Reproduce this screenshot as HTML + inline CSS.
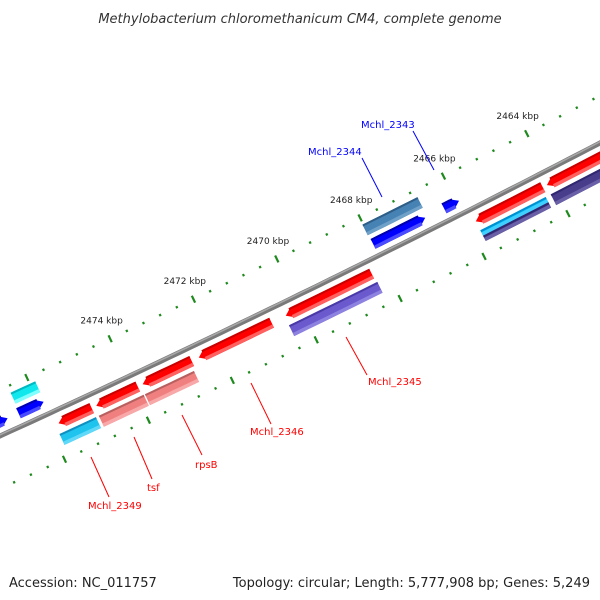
<!DOCTYPE html>
<html><head><meta charset="utf-8"><style>
body{margin:0;background:#fff;}
svg{display:block;}
text{font-family:"DejaVu Sans","Liberation Sans",sans-serif;}
</style></head><body>
<svg id="map" width="600" height="600" viewBox="0 0 600 600">
<text x="300" y="23" text-anchor="middle" font-size="13" font-style="italic" fill="#333">Methylobacterium chloromethanicum CM4, complete genome</text>
<text x="9" y="587" font-size="13" fill="#222">Accession: NC_011757</text>
<text x="590" y="587" text-anchor="end" font-size="13" fill="#222">Topology: circular; Length: 5,777,908 bp; Genes: 5,249</text>
<g id="layer"></g>
</svg>
<script>
// ---- data (kbp) ----
const geneNames = ["Mchl_2349","tsf","rpsB","Mchl_2346","Mchl_2345","gene-r6","gene-r7"];
const redStarts = [2475.79,2474.89,2473.78,2472.44,2470.36,2465.82,2464.12];
const redEnds   = [2475.00,2473.90,2472.61,2470.70,2468.31,2464.22,2460.32];
const cogStarts = [2475.87,2474.93,2473.83,2470.39,2465.82,2464.14];
const cogEnds   = [2475.00,2473.86,2472.66,2468.28,2464.26,2460.32];
const cogColors = ["#1ec3ee","#f08080","#f08080","#6a5acd","#483d8b","#483d8b"];
const fwdStarts = [2468.00,2466.30,2476.49,2477.30];
const fwdEnds   = [2466.75,2465.94,2475.89,2476.75];
const topStarts = [2468.02,2476.46];
const topEnds   = [2466.70,2475.87];
const topColors = ["#4682b4","#10e8ee"];
const tickLabels = ["2464 kbp","2466 kbp","2468 kbp","2470 kbp","2472 kbp","2474 kbp"];
const tickValues = [2464,2466,2468,2470,2472,2474];

// ---- axis functions ----
const pos = kbp => 546 - (kbp - 2464) * 41.8;
const bbY = x => 436 - 0.456 * x - 5.4e-5 * x * x;
function P(x0, v) {
  const s = -0.456 - 2 * 5.4e-5 * x0, L = Math.hypot(1, s);
  return [x0 + v * (-s) / L, bbY(x0) + v / L];
}
const NS = "http://www.w3.org/2000/svg";
const layer = document.getElementById("layer");
function mk(tag, attrs) {
  const e = document.createElementNS(NS, tag);
  for (const k in attrs) e.setAttribute(k, attrs[k]);
  layer.appendChild(e);
  return e;
}
function band(xa, xb, v1, v2) {
  const pts = [];
  const n = 6;
  for (let i = 0; i <= n; i++) pts.push(P(xa + (xb - xa) * i / n, v1));
  for (let i = n; i >= 0; i--) pts.push(P(xa + (xb - xa) * i / n, v2));
  return pts;
}
function featurePts(xa, xb, v1, v2, dir) {
  const ah = 7, vm = (v1 + v2) / 2;
  if (dir === "L") {
    const pts = band(xa + ah, xb, v1, v2);
    pts.push(P(xa, vm));
    return pts;
  } else if (dir === "R") {
    const pts = band(xa, xb - ah, v1, v2);
    pts.splice(7, 0, P(xb, vm));
    return pts;
  }
  return band(xa, xb, v1, v2);
}
const ps = pts => pts.map(p => p[0].toFixed(1) + "," + p[1].toFixed(1)).join(" ");
function drawFeature(k1, k2, v1, v2, dir, color, light, dark, name) {
  const xa = Math.min(pos(k1), pos(k2)), xb = Math.max(pos(k1), pos(k2));
  const g = mk("g", {});
  
  
  const main = document.createElementNS(NS, "polygon");
  main.setAttribute("points", ps(featurePts(xa, xb, v1, v2, dir)));
  main.setAttribute("fill", color);
  g.appendChild(main);
  const ins = dir === "L" ? [xa + 5, xb] : dir === "R" ? [xa, xb - 5] : [xa, xb];
  const top = document.createElementNS(NS, "polygon");
  top.setAttribute("points", ps(band(ins[0], ins[1], v1, v1 + 2)));
  top.setAttribute("fill", dark);
  g.appendChild(top);
  const bot = document.createElementNS(NS, "polygon");
  bot.setAttribute("points", ps(band(ins[0], ins[1], v2 - 3.5, v2)));
  bot.setAttribute("fill", light);
  g.appendChild(bot);
}

// tick rings
for (let i = 0; i <= 55; i++) {
  const k = 2458 + i * 0.4;
  const major = Math.abs(k / 2 - Math.round(k / 2)) < 0.01;
  const x0 = pos(k);
  [-42, 48].forEach(v => {
    const h = major ? 3.8 : 1.2;
    const a = P(x0, v - h), b = P(x0, v + h);
    const ln = mk("line", {x1: a[0], y1: a[1], x2: b[0], y2: b[1], stroke: "#1e8a1e", "stroke-width": major ? 2.2 : 2.2});
    
    
  });
}
tickValues.forEach((k, i) => {
  const p = P(pos(k), -62);
  const t = mk("text", {x: p[0], y: p[1] + 3, "text-anchor": "middle", "font-size": "9", fill: "#222"});
  t.textContent = tickLabels[i];
  
  
});

// backbone
{
  let d = "";
  for (let x = -20; x <= 640; x += 10) d += (x === -20 ? "M" : "L") + x + "," + bbY(x).toFixed(1);
  const b1 = mk("path", {d: d, stroke: "#7a7a7a", "stroke-width": 5, fill: "none"});
  
  
  const b2 = mk("path", {d: d, stroke: "#a8a8a8", "stroke-width": 1.5, fill: "none", transform: "translate(-0.5,-1)"});
  
  
}

// features
redStarts.forEach((s, i) => drawFeature(s, redEnds[i], 7.5, 18.5, "L", "#ff0000", "#ff6060", "#c80000", "gene-" + geneNames[i]));
cogStarts.forEach((s, i) => {
  if (i === 4) {
    drawFeature(s, cogEnds[i], 23, 29, "N", "#00bfff", "#40d0ff", "#0090d0", "cog-cyan-" + i);
    drawFeature(s, cogEnds[i], 29, 35, "N", "#483d8b", "#6a60a8", "#302870", "cog-purple-" + i);
  } else {
    const c = cogColors[i];
    const light = c === "#f08080" ? "#f8a8a8" : c === "#6a5acd" ? "#8e82e0" : c === "#483d8b" ? "#6a60a8" : "#60d8f8";
    const dark = c === "#f08080" ? "#b86060" : c === "#6a5acd" ? "#4a3aa8" : c === "#483d8b" ? "#302870" : "#1090c0";
    drawFeature(s, cogEnds[i], 23, 35, "N", c, light, dark, "cog-box-" + i);
  }
});
fwdStarts.forEach((s, i) => drawFeature(s, fwdEnds[i], -18.5, -7.5, "R", "#0000ff", "#4a4aff", "#0000b0", "forward-gene-" + i));
topStarts.forEach((s, i) => drawFeature(s, topEnds[i], -35, -23, "N", topColors[i], i === 0 ? "#6ea0c8" : "#80ffff", i === 0 ? "#2e5e88" : "#00b8c0", "forward-cog-" + i));
</script>
<svg width="0" height="0" style="position:absolute"></svg>
<script>
const svg = document.getElementById("map");
const labelNames = ["Mchl_2343","Mchl_2344","Mchl_2345","Mchl_2346","rpsB","tsf","Mchl_2349"];
const labelX = [361,308,368,250,195,147,88];
const labelY = [128,155,385,435,468,491,509];
const labelColors = ["#0000ff","#0000ff","#ff0000","#ff0000","#ff0000","#ff0000","#ff0000"];
const lineFrom = [[413,131],[362,158],[346,337],[251,383],[182,415],[134,437],[91,457]];
const lineTo = [[434,170],[382,197],[367,375],[271,424],[202,455],[152,479],[109,497]];
labelNames.forEach((n, i) => {
  const l = document.createElementNS("http://www.w3.org/2000/svg", "line");
  l.setAttribute("x1", lineFrom[i][0]); l.setAttribute("y1", lineFrom[i][1]);
  l.setAttribute("x2", lineTo[i][0]); l.setAttribute("y2", lineTo[i][1]);
  l.setAttribute("stroke", labelColors[i]); l.setAttribute("stroke-width", "1");
  
  
  svg.appendChild(l);
  const t = document.createElementNS("http://www.w3.org/2000/svg", "text");
  t.setAttribute("x", labelX[i]); t.setAttribute("y", labelY[i]);
  t.setAttribute("font-size", "10"); t.setAttribute("fill", labelColors[i]);
  t.textContent = n;
  
  
  svg.appendChild(t);
});
</script>
</body></html>
